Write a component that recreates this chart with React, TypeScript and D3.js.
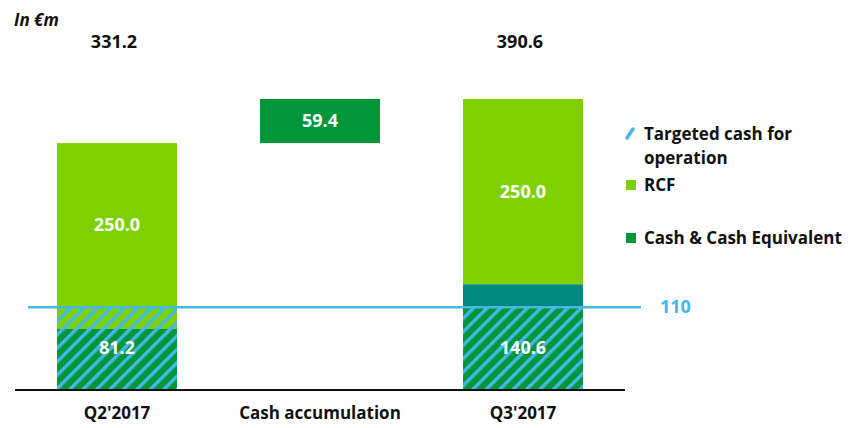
import React from "react";
import * as d3 from "d3";

const categories = ["Q2'2017", "Cash accumulation", "Q3'2017"];
const cashValues = [81.2, 0, 140.6];
const rcfValues = [250.0, 0, 250.0];
const accumulation = [0, 59.4, 0];
const totals = [331.2, null, 390.6];
const targetedCash = 110;
const legendItems = ["Targeted cash for|operation", "RCF", "Cash & Cash Equivalent"];

const W = 854;
const H = 428;
const FONT = "'Open Sans', Lato, sans-serif";
const C_RCF = "#7ED100";
const C_CASH = "#009639";
const C_TEAL = "#00897E";
const C_BLUE = "#45B8E6";

export default function App() {
  const x = d3
    .scaleBand<string>()
    .domain(categories)
    .range([15, 625])
    .paddingInner(0.409)
    .paddingOuter(0.207);
  const y = d3.scaleLinear().domain([0, 390.6]).range([389, 99]);
  const bw = x.bandwidth();

  return (
    <svg width={W} height={H} style={{ position: "absolute", left: 0, top: 0, fontFamily: FONT }}>
      <defs>
        <pattern id="hatch" width={9.5} height={9.5} patternUnits="userSpaceOnUse" patternTransform="rotate(45)">
          <rect x={0} y={0} width={3.4} height={9.5} fill={C_BLUE} />
        </pattern>
      </defs>
      <rect width={W} height={H} fill="#fff" />
      <text x={14} y={26} fontSize={17} fontWeight="bold" fontStyle="italic" fill="#111">
        In €m
      </text>

      {categories.map((c, i) => {
        const x0 = x(c)!;
        const cx = x0 + bw / 2;
        const cash = cashValues[i];
        const rcf = rcfValues[i];
        const acc = accumulation[i];
        const els: React.ReactNode[] = [];
        if (cash > 0) {
          const top = cash + rcf;
          els.push(<rect key="rcf" x={x0} y={y(top)} width={bw} height={y(cash) - y(top)} fill={C_RCF} />);
          els.push(<rect key="cash" x={x0} y={y(cash)} width={bw} height={y(0) - y(cash)} fill={C_CASH} />);
          if (cash > targetedCash) {
            els.push(
              <rect key="teal" x={x0} y={y(cash)} width={bw} height={y(targetedCash) - y(cash)} fill={C_TEAL} />
            );
          }
          els.push(
            <rect key="hatch" x={x0} y={y(targetedCash)} width={bw} height={y(0) - y(targetedCash)} fill="url(#hatch)" />
          );
          const upper = Math.max(cash, targetedCash);
          els.push(
            <text key="rl" x={cx} y={(y(top) + y(upper)) / 2 + 6} textAnchor="middle" fontSize={18} fontWeight="bold" fill="#fff">
              {rcf.toFixed(1)}
            </text>
          );
          els.push(
            <text key="cl" x={cx} y={(y(0) + y(targetedCash)) / 2 + 6} textAnchor="middle" fontSize={18} fontWeight="bold" fill="#fff">
              {cash.toFixed(1)}
            </text>
          );
          els.push(
            <text key="tl" x={cx - 3} y={48} textAnchor="middle" fontSize={18} fontWeight="bold" fill="#111">
              {(totals[i] as number).toFixed(1)}
            </text>
          );
        }
        if (acc > 0) {
          const base = totals[0] as number;
          els.push(
            <rect key="acc" x={x0} y={y(base + acc)} width={bw} height={y(base) - y(base + acc)} fill={C_CASH} />
          );
          els.push(
            <text key="al" x={cx} y={(y(base + acc) + y(base)) / 2 + 6} textAnchor="middle" fontSize={18} fontWeight="bold" fill="#fff">
              {acc.toFixed(1)}
            </text>
          );
        }
        els.push(
          <text key="cat" x={cx} y={419} textAnchor="middle" fontSize={17} fontWeight="bold" fill="#111">
            {c}
          </text>
        );
        return <g key={c}>{els}</g>;
      })}

      <line x1={15} x2={625} y1={y(0) + 1} y2={y(0) + 1} stroke="#111" strokeWidth={2} />
      <line x1={28} x2={641} y1={y(targetedCash)} y2={y(targetedCash)} stroke={C_BLUE} strokeWidth={2.5} />
      <text x={660} y={y(targetedCash) + 6} fontSize={18} fontWeight="bold" fill={C_BLUE}>
        {targetedCash}
      </text>

      <g fontSize={17} fontWeight="bold" fill="#111">
        <line x1={627} y1={138} x2={633} y2={129} stroke={C_BLUE} strokeWidth={3.5} strokeLinecap="round" />
        <text x={644} y={140}>
          {legendItems[0].split("|")[0]}
        </text>
        <text x={644} y={164}>
          {legendItems[0].split("|")[1]}
        </text>
        <rect x={626} y={180} width={10} height={10} fill={C_RCF} />
        <text x={644} y={191}>{legendItems[1]}</text>
        <rect x={626} y={233} width={10} height={10} fill={C_CASH} />
        <text x={644} y={244}>{legendItems[2]}</text>
      </g>
    </svg>
  );
}
